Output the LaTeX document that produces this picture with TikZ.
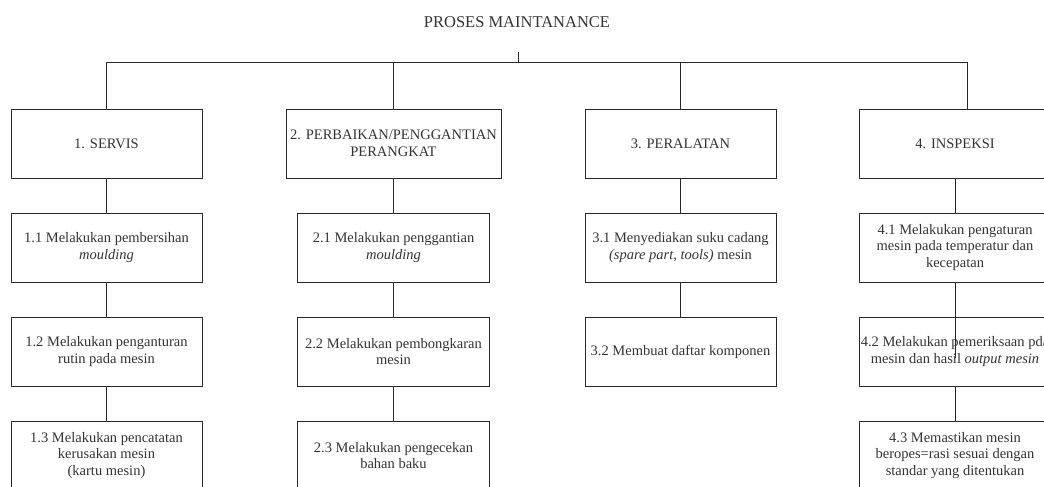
\documentclass[tikz,border=0pt]{standalone}
\usepackage{fontspec}
\setmainfont{Liberation Serif}
\usetikzlibrary{positioning}

\begin{document}
\begin{tikzpicture}[
    x=1pt, y=-1pt,
    font=\fontsize{14.5}{16.5}\selectfont, node distance=34pt,
    kotak/.style={draw=black!85, line width=1pt, minimum width=191pt, minimum height=69pt, align=center, inner sep=1pt, text=black!80},
    garis/.style={draw=black!85, line width=1pt},
]
\useasboundingbox (0,0) rectangle (1044,487);
\clip (0,0) rectangle (1044,487);
\node[text=black!80, font=\fontsize{16.5}{19}\selectfont] (judul) at (517,22) {PROSES MAINTANANCE};
\coordinate (tik) at (518,52);
\coordinate (atas) at (518,63);
\coordinate (kanan) at (967,63);
% level 1
\node[kotak] (servis) at (106.5,143.5) {1. SERVIS};
\node[kotak, minimum width=215pt] (perbaikan) at (393.5,143.5) {2. PERBAIKAN/PENGGANTIAN\\PERANGKAT};
\node[kotak] (alat) at (680.5,143.5) {3. PERALATAN};
\node[kotak] (inspeksi) at (955,143.5) {4. INSPEKSI};
% level 2 dan 3
\node[kotak, below=of servis] (s1) {1.1 Melakukan pembersihan\\\textit{moulding}};
\node[kotak, below=of s1] (s2) {1.2 Melakukan penganturan\\rutin pada mesin};
\node[kotak, below=of s2] (s3) {1.3 Melakukan pencatatan\\kerusakan mesin\\(kartu mesin)};
\node[kotak, minimum width=192pt, below=of perbaikan] (p1) {2.1 Melakukan penggantian\\\textit{moulding}};
\node[kotak, minimum width=192pt, below=of p1] (p2) {2.2 Melakukan pembongkaran\\mesin};
\node[kotak, minimum width=192pt, below=of p2] (p3) {2.3 Melakukan pengecekan\\bahan baku};
\node[kotak, below=of alat] (a1) {3.1 Menyediakan suku cadang\\\textit{(spare part, tools)} mesin};
\node[kotak, below=of a1] (a2) {3.2 Membuat daftar komponen};
\node[kotak, below=of inspeksi] (i1) {4.1 Melakukan pengaturan\\mesin pada temperatur dan\\kecepatan};
\node[kotak, below=of i1] (i2) {4.2 Melakukan pemeriksaan pda\\mesin dan hasil \textit{output mesin}};
\node[kotak, below=of i2] (i3) {4.3 Memastikan mesin\\beropes=rasi sesuai dengan\\standar yang ditentukan};
\path (i1.south) ++(0,75) coordinate (ujung);
% garis
\draw[garis] (tik) -- (atas);
\draw[garis] (servis.north) |- (kanan) -- (kanan |- inspeksi.north);
\draw[garis] (perbaikan.north) -- (perbaikan.north |- atas);
\draw[garis] (alat.north) -- (alat.north |- atas);
\draw[garis] (servis) -- (s1);
\draw[garis] (s1) -- (s2);
\draw[garis] (s2) -- (s3);
\draw[garis] (perbaikan) -- (p1);
\draw[garis] (p1) -- (p2);
\draw[garis] (p2) -- (p3);
\draw[garis] (alat) -- (a1);
\draw[garis] (a1) -- (a2);
\draw[garis] (inspeksi) -- (i1);
\draw[garis] (i1.south) -- (ujung);
\draw[garis] (i2) -- (i3);
\end{tikzpicture}
\end{document}
